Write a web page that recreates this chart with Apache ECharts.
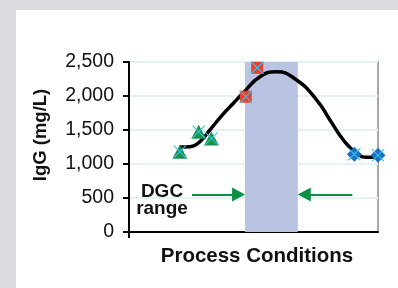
<!DOCTYPE html>
<html>
<head>
<meta charset="utf-8">
<script src="https://cdn.jsdelivr.net/npm/echarts@6/dist/echarts.min.js"></script>
<style>
  html, body { margin: 0; padding: 0; background: #dcdde0; }
  #panel { position: absolute; left: 16px; top: 10px; width: 382px; height: 278px; background: #fff; }
  #main { position: absolute; left: 0; top: 0; width: 398px; height: 288px; }
</style>
</head>
<body>
<div id="panel"></div>
<div id="main"></div>
<script>
// measured samples (x = position along process conditions, 0-100)
var triangleData = [[20.4, 1180], [28.0, 1475], [33.1, 1375]];
var squareData = [[46.9, 1990], [51.5, 2415]];
var diamondData = [[90.5, 1145], [100, 1130]];
// fitted trend curve
var curveData = [
  [20.3, 1250], [24.5, 1254], [28.5, 1330], [32.5, 1500], [37, 1700], [41.9, 1893],
  [45.8, 2044], [52.6, 2284], [59.3, 2357], [67.3, 2235], [75.4, 1941],
  [80.7, 1647], [86.1, 1353], [91.4, 1157], [95.5, 1099], [99.5, 1107]
];
var dgcRange = [46.6, 67.8];
var leftArrow = [[25.3, 550], [44.0, 550]];
var rightArrow = [[89.7, 550], [70.4, 550]];
var yTicks = { min: 0, max: 2500, interval: 500 };

var xMark = "path://M0,0.6L0.6,0L5,4.4L9.4,0L10,0.6L5.6,5L10,9.4L9.4,10L5,5.6L0.6,10L0,9.4L4.4,5Z";
var cyan = "#36c3ee";
var green = "#0b9146";
var fontFam = "Liberation Sans, Arial, sans-serif";

var myChart = echarts.init(document.getElementById("main"));
var option = {
  animation: false,
  textStyle: { fontFamily: fontFam },
  grid: {
    left: 129, right: 20, top: 62, bottom: 56,
    show: true, borderColor: "#a8a8a8", borderWidth: 2, backgroundColor: "transparent"
  },
  xAxis: {
    type: "value", min: 0, max: 100, interval: 100,
    axisLine: { show: true, onZero: false, lineStyle: { color: "#000", width: 2 } },
    axisTick: { show: true, customValues: [0], length: 6, lineStyle: { color: "#000", width: 2 } },
    axisLabel: { show: false },
    splitLine: { show: false }
  },
  yAxis: {
    type: "value", min: yTicks.min, max: yTicks.max, interval: yTicks.interval,
    axisLine: { show: true, lineStyle: { color: "#000", width: 2 } },
    axisTick: { show: true, length: 6, lineStyle: { color: "#000", width: 2 } },
    axisLabel: {
      color: "#111", fontSize: 19.5, margin: 15,
      formatter: function (v) { return v.toLocaleString("en-US"); }
    },
    splitLine: { show: true, lineStyle: { color: "#e4f2f2", width: 2 } }
  },
  graphic: [
    { type: "text", x: 41, y: 135, rotation: Math.PI / 2,
      style: { text: "IgG (mg/L)", font: "bold 18.5px " + fontFam,
        fill: "#111", align: "center", verticalAlign: "middle" } },
    { type: "text", x: 257, y: 256,
      style: { text: "Process Conditions", font: "bold 20.5px " + fontFam,
        fill: "#111", align: "center", verticalAlign: "middle" } },
    { type: "text", x: 162, y: 192,
      style: { text: "DGC", font: "bold 19px " + fontFam,
        fill: "#111", align: "center", verticalAlign: "middle" } },
    { type: "text", x: 162, y: 209,
      style: { text: "range", font: "bold 19px " + fontFam,
        fill: "#111", align: "center", verticalAlign: "middle" } }
  ],
  series: [
    {
      name: "band", type: "line", data: [], z: 1,
      markArea: {
        silent: true,
        itemStyle: { color: "#b9c4e2", opacity: 1 },
        data: [[{ xAxis: dgcRange[0], yAxis: yTicks.min }, { xAxis: dgcRange[1], yAxis: yTicks.max }]]
      },
      markLine: {
        silent: true, symbol: ["none", "triangle"], symbolSize: [14, 13],
        label: { show: false },
        lineStyle: { color: green, width: 2, type: "solid" },
        data: [
          [{ coord: leftArrow[0] }, { coord: leftArrow[1] }],
          [{ coord: rightArrow[0] }, { coord: rightArrow[1] }]
        ]
      }
    },
    {
      name: "curve", type: "line", data: curveData, smooth: 0.5, showSymbol: false, z: 3,
      lineStyle: { color: "#000", width: 3.5 }
    },
    {
      name: "tri", type: "scatter", data: triangleData, symbol: "triangle", symbolSize: [15, 14], z: 4,
      itemStyle: { color: "#189249", opacity: 1 }
    },
    {
      name: "sq", type: "scatter", data: squareData, symbol: "rect", symbolSize: 12, z: 4,
      itemStyle: { color: "#e8402d", opacity: 1 }
    },
    {
      name: "dia", type: "scatter", data: diamondData, symbol: "diamond", symbolSize: [15, 15], z: 4,
      itemStyle: { color: "#1e6fc2", opacity: 1 }
    },
    {
      name: "x", type: "scatter", data: triangleData.concat(squareData, diamondData),
      symbol: xMark, symbolSize: 13, z: 5,
      itemStyle: { color: cyan, opacity: 1 }
    }
  ]
};
myChart.setOption(option);
</script>
</body>
</html>
